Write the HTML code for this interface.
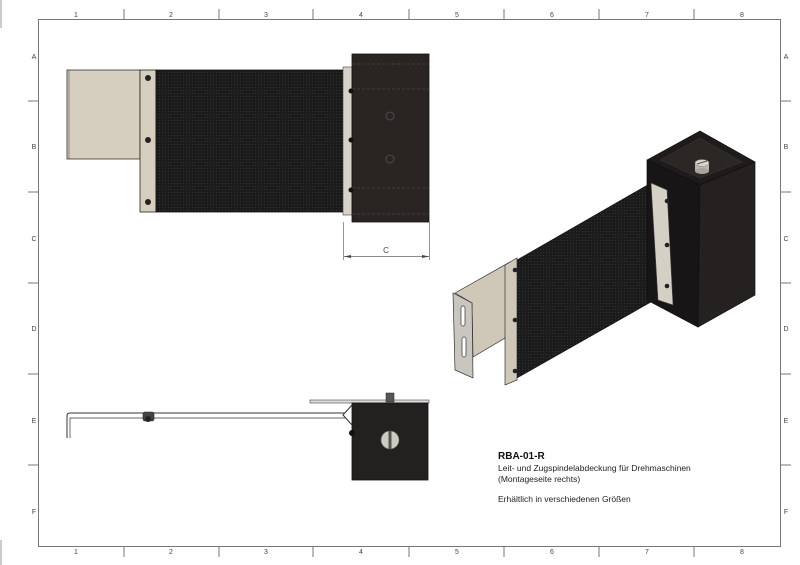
<!DOCTYPE html>
<html><head><meta charset="utf-8"><style>
html,body{margin:0;padding:0;background:#fff;width:800px;height:565px;overflow:hidden}
svg{display:block}
text{font-family:"Liberation Sans",sans-serif}
</style></head><body>
<svg width="800" height="565" viewBox="0 0 800 565" xmlns="http://www.w3.org/2000/svg">
<defs>
<pattern id="mesh" width="3" height="3" patternUnits="userSpaceOnUse">
<rect width="3" height="3" fill="#1b1b1b"/><rect width="1" height="1" fill="#333"/>
</pattern>
</defs>
<!-- sheet edge marks -->
<line x1="1" y1="0" x2="1" y2="28" stroke="#999" stroke-width="1"/>
<line x1="1" y1="540" x2="1" y2="565" stroke="#999" stroke-width="1"/>
<!-- frame -->
<rect x="38.5" y="19.5" width="742" height="527" fill="none" stroke="#777" stroke-width="1"/>
<g stroke="#777" stroke-width="1">
<line x1="124" y1="9" x2="124" y2="19"/><line x1="219" y1="9" x2="219" y2="19"/><line x1="313" y1="9" x2="313" y2="19"/><line x1="409" y1="9" x2="409" y2="19"/><line x1="504" y1="9" x2="504" y2="19"/><line x1="599" y1="9" x2="599" y2="19"/><line x1="694" y1="9" x2="694" y2="19"/>
<line x1="124" y1="547" x2="124" y2="557"/><line x1="219" y1="547" x2="219" y2="557"/><line x1="313" y1="547" x2="313" y2="557"/><line x1="409" y1="547" x2="409" y2="557"/><line x1="504" y1="547" x2="504" y2="557"/><line x1="599" y1="547" x2="599" y2="557"/><line x1="694" y1="547" x2="694" y2="557"/>
<line x1="28" y1="101" x2="38" y2="101"/><line x1="28" y1="192" x2="38" y2="192"/><line x1="28" y1="283" x2="38" y2="283"/><line x1="28" y1="374" x2="38" y2="374"/><line x1="28" y1="465" x2="38" y2="465"/>
<line x1="781" y1="101" x2="791" y2="101"/><line x1="781" y1="192" x2="791" y2="192"/><line x1="781" y1="283" x2="791" y2="283"/><line x1="781" y1="374" x2="791" y2="374"/><line x1="781" y1="465" x2="791" y2="465"/>
</g>
<g font-size="7" fill="#444" text-anchor="middle">
<text x="76" y="17">1</text><text x="171" y="17">2</text><text x="266" y="17">3</text><text x="361" y="17">4</text><text x="457" y="17">5</text><text x="552" y="17">6</text><text x="647" y="17">7</text><text x="742" y="17">8</text>
<text x="76" y="554">1</text><text x="171" y="554">2</text><text x="266" y="554">3</text><text x="361" y="554">4</text><text x="457" y="554">5</text><text x="552" y="554">6</text><text x="647" y="554">7</text><text x="742" y="554">8</text>
<text x="34" y="59">A</text><text x="34" y="149">B</text><text x="34" y="241">C</text><text x="34" y="331">D</text><text x="34" y="423">E</text><text x="34" y="514">F</text>
<text x="786" y="59">A</text><text x="786" y="149">B</text><text x="786" y="241">C</text><text x="786" y="331">D</text><text x="786" y="423">E</text><text x="786" y="514">F</text>
</g>

<!-- TOP VIEW -->
<rect x="67" y="70" width="73" height="89" fill="#d6cfc0" stroke="#333" stroke-width="0.8"/>
<line x1="69" y1="70" x2="69" y2="159" stroke="#555" stroke-width="0.6"/>
<rect x="140" y="70" width="16" height="142" fill="#d6cfc0" stroke="#222" stroke-width="0.8"/>
<circle cx="148" cy="78" r="3" fill="#222"/><circle cx="148" cy="140" r="3" fill="#222"/><circle cx="148" cy="202" r="3" fill="#222"/>
<rect x="156" y="70" width="187" height="142" fill="url(#mesh)" stroke="#111" stroke-width="0.8"/>
<rect x="343" y="67" width="9" height="148" fill="#d6d2c8" stroke="#444" stroke-width="0.6"/>
<rect x="352" y="54" width="77" height="168" fill="#2a2522" stroke="#111" stroke-width="0.8"/>
<g stroke="#555" stroke-width="0.6" stroke-dasharray="3,2" fill="none">
<line x1="352" y1="64" x2="429" y2="64"/><line x1="352" y1="89" x2="429" y2="89"/><line x1="352" y1="188" x2="429" y2="188"/><line x1="352" y1="214" x2="429" y2="214"/>
</g>
<circle cx="351" cy="91" r="2.5" fill="#111"/><circle cx="351" cy="140" r="2.5" fill="#111"/><circle cx="351" cy="190" r="2.5" fill="#111"/>
<circle cx="390" cy="116" r="4" fill="none" stroke="#555" stroke-width="0.8"/><circle cx="390" cy="159" r="4" fill="none" stroke="#555" stroke-width="0.8"/>
<!-- dimension C -->
<g stroke="#666" stroke-width="0.7">
<line x1="343.5" y1="222" x2="343.5" y2="260"/><line x1="429.5" y1="222" x2="429.5" y2="260"/>
<line x1="344" y1="256.5" x2="429" y2="256.5"/>
</g>
<polygon points="344,256.5 351,255 351,258" fill="#444"/><polygon points="429,256.5 422,255 422,258" fill="#444"/>
<text x="386" y="253" font-size="8" fill="#444" text-anchor="middle">C</text>

<!-- ISO VIEW -->
<polygon points="455,293 510,262 505,338 473,357 472,303" fill="#cfc8b8" stroke="#333" stroke-width="0.7"/>
<polygon points="453,293 472,303 473,378 455,370" fill="#c9c6c0" stroke="#333" stroke-width="0.7"/>
<rect x="461" y="306" width="4" height="20" rx="2" fill="#fff" stroke="#333" stroke-width="0.7"/>
<rect x="462" y="337" width="4" height="20" rx="2" fill="#fff" stroke="#333" stroke-width="0.7"/>
<polygon points="517,260 651,183 651,302 517,378" fill="url(#mesh)" stroke="#111" stroke-width="0.6"/>
<polygon points="505,265 517,258 517,380 505,385" fill="#cfc8b8" stroke="#333" stroke-width="0.7"/>
<circle cx="515" cy="270" r="2.3" fill="#222"/><circle cx="515" cy="320" r="2.3" fill="#222"/><circle cx="515" cy="371" r="2.3" fill="#222"/>
<polygon points="647,160 700,131 755,162 700,185" fill="#1e1b1a" stroke="#111" stroke-width="0.7"/>
<polygon points="660,160 700,138 742,162 700,178" fill="#2b2725" stroke="#3a3a3a" stroke-width="0.5"/>
<polygon points="647,160 700,185 698,327 647,300" fill="#171515" stroke="#111" stroke-width="0.7"/>
<polygon points="700,185 755,162 755,295 698,327" fill="#242120" stroke="#111" stroke-width="0.7"/>
<polygon points="651,183 667,190 673,305 658,300" fill="#d4d0c6" stroke="#444" stroke-width="0.6"/>
<circle cx="667" cy="201" r="2.3" fill="#222"/><circle cx="667" cy="245" r="2.3" fill="#222"/><circle cx="667" cy="286" r="2.3" fill="#222"/>
<rect x="695" y="163" width="14" height="8" fill="#bbb6ad"/>
<ellipse cx="702" cy="171" rx="7" ry="3" fill="#a9a49b"/>
<ellipse cx="702" cy="163" rx="7" ry="3.5" fill="#d9d5cc" stroke="#777" stroke-width="0.5"/>
<line x1="697" y1="164" x2="707" y2="161" stroke="#555" stroke-width="1"/>

<!-- BOTTOM VIEW -->
<path d="M67,438 L67,416 Q67,413 70,413 L345,413" fill="none" stroke="#333" stroke-width="1"/>
<path d="M70,438 L70,418 L345,418" fill="none" stroke="#333" stroke-width="0.7"/>
<rect x="143" y="412" width="11" height="9" rx="2" fill="#444" stroke="#222" stroke-width="0.6"/>
<circle cx="148" cy="419" r="3" fill="#222"/>
<rect x="310" y="400" width="119" height="3" fill="#ddd" stroke="#444" stroke-width="0.6"/>
<rect x="352" y="403" width="76" height="77" fill="#232020" stroke="#111" stroke-width="0.8"/>
<polyline points="352,405 343,415 352,425" fill="none" stroke="#333" stroke-width="1"/>
<circle cx="352" cy="433" r="3" fill="#111"/>
<rect x="386" y="393" width="8" height="9" fill="#555" stroke="#222" stroke-width="0.5"/>
<circle cx="390" cy="440" r="9" fill="#cfcac0" stroke="#666" stroke-width="0.6"/>
<rect x="388.5" y="431" width="3" height="18" fill="#555"/>

<!-- text -->
<text x="498" y="459" font-size="10" font-weight="bold" fill="#111">RBA-01-R</text>
<text x="498" y="471" font-size="8.5" fill="#222">Leit- und Zugspindelabdeckung für Drehmaschinen</text>
<text x="498" y="482" font-size="8.5" fill="#222">(Montageseite rechts)</text>
<text x="498" y="502" font-size="8.5" fill="#222">Erhältlich in verschiedenen Größen</text>
</svg>
</body></html>
